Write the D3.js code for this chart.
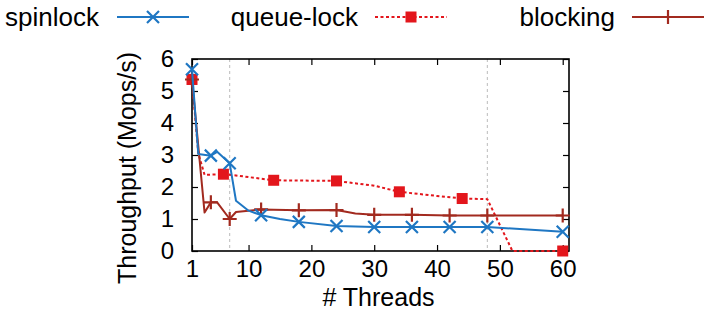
<!DOCTYPE html>
<html>
<head>
<meta charset="utf-8">
<script src="https://cdn.jsdelivr.net/npm/d3@7"></script>
<style>
  body { margin: 0; background: #fff; }
  svg { display: block; font-family: "Liberation Sans", Arial, sans-serif; }
</style>
</head>
<body>
<div id="chart"></div>
<script>
// thread counts and throughput (Mops/s) per lock type
const spinThreads = [1, 2, 4, 5, 7, 8, 10, 12, 15, 18, 24, 30, 36, 42, 48, 60];
const spinlock = [5.68, 3.03, 2.98, 3.1, 2.74, 1.57, 1.26, 1.12, 1.0, 0.91, 0.78, 0.75, 0.75, 0.75, 0.75, 0.6];
const spinMarks = [1, 4, 7, 12, 18, 24, 30, 36, 42, 48, 60];

const queueThreads = [1, 2, 3, 6, 8, 14, 24, 30, 34, 40, 44, 48, 52, 60];
const queueLock = [5.36, 3.05, 2.38, 2.4, 2.36, 2.21, 2.19, 2.04, 1.85, 1.72, 1.64, 1.62, 0, 0];
const queueMarks = [1, 6, 14, 24, 34, 44, 60];

const blockThreads = [1, 3, 4, 5, 7, 8, 12, 18, 24, 27, 30, 36, 42, 48, 60];
const blocking = [5.36, 1.2, 1.52, 1.52, 1.0, 1.22, 1.3, 1.27, 1.28, 1.17, 1.13, 1.13, 1.11, 1.11, 1.11];
const blockMarks = [1, 4, 7, 12, 18, 24, 30, 36, 42, 48, 60];

const xTicks = [1, 10, 20, 30, 40, 50, 60];
const yTicks = [0, 1, 2, 3, 4, 5, 6];
const guideLines = [7, 48];

const W = 708, H = 311;
const plotL = 192, plotR = 569, plotT = 59, plotB = 251;

const svg = d3.select("#chart").append("svg")
    .attr("width", W)
    .attr("height", H);

const x = d3.scaleLinear().domain([1, 61]).range([plotL, plotR]);
const y = d3.scaleLinear().domain([0, 6]).range([plotB, plotT]);

// grey dashed guides
svg.append("g").selectAll("line")
    .data(guideLines)
    .join("line")
    .attr("x1", d => x(d)).attr("x2", d => x(d))
    .attr("y1", plotT).attr("y2", plotB)
    .attr("stroke", "#bbb")
    .attr("stroke-width", 1)
    .attr("stroke-dasharray", "3,3");

// axes with inward ticks, mirrored
const tk = 6;
const axFont = "24px";
const bAxis = svg.append("g").attr("transform", `translate(0,${plotB})`)
    .call(d3.axisBottom(x).tickValues(xTicks).tickSizeInner(-tk).tickSizeOuter(0).tickPadding(8));
const tAxis = svg.append("g").attr("transform", `translate(0,${plotT})`)
    .call(d3.axisTop(x).tickValues(xTicks).tickSizeInner(-tk).tickSizeOuter(0).tickFormat(""));
const lAxis = svg.append("g").attr("transform", `translate(${plotL},0)`)
    .call(d3.axisLeft(y).tickValues(yTicks).tickFormat(d3.format("d")).tickSizeInner(-tk).tickSizeOuter(0).tickPadding(18));
const rAxis = svg.append("g").attr("transform", `translate(${plotR},0)`)
    .call(d3.axisRight(y).tickValues(yTicks).tickSizeInner(-tk).tickSizeOuter(0).tickFormat(""));

[bAxis, tAxis, lAxis, rAxis].forEach(a => {
    a.select(".domain").remove();
    a.selectAll(".tick line").attr("stroke", "#000").attr("stroke-width", 1.2);
    a.selectAll("text").attr("fill", "#000").style("font-size", axFont)
        .style("font-family", "Liberation Sans, Arial, sans-serif");
});
bAxis.selectAll("text").attr("dy", "0.75em");

svg.append("rect")
    .attr("x", plotL).attr("y", plotT)
    .attr("width", plotR - plotL).attr("height", plotB - plotT)
    .attr("fill", "none")
    .attr("stroke", "#000")
    .attr("stroke-width", 1.6);

// axis titles
svg.append("text")
    .attr("x", (plotL + plotR) / 2 - 2)
    .attr("y", 306)
    .attr("text-anchor", "middle")
    .style("font-size", "25px")
    .text("# Threads");

svg.append("text")
    .attr("transform", `translate(136,${(plotT + plotB) / 2 + 13}) rotate(-90)`)
    .attr("text-anchor", "middle")
    .style("font-size", "25px")
    .text("Throughput (Mops/s)");

// marker shapes
function drawMarker(g, kind, color, cx, cy) {
    if (kind === "x") {
        g.append("path")
            .attr("d", `M${cx - 6},${cy - 6}L${cx + 6},${cy + 6}M${cx - 6},${cy + 6}L${cx + 6},${cy - 6}`)
            .attr("stroke", color).attr("stroke-width", 2.2).attr("fill", "none");
    } else if (kind === "square") {
        g.append("rect")
            .attr("x", cx - 5.5).attr("y", cy - 5.5)
            .attr("width", 11).attr("height", 11)
            .attr("fill", color);
    } else {
        g.append("path")
            .attr("d", `M${cx - 7},${cy}L${cx + 7},${cy}M${cx},${cy - 7}L${cx},${cy + 7}`)
            .attr("stroke", color).attr("stroke-width", 2.2).attr("fill", "none");
    }
}

const series = [
    { name: "queue-lock", xs: queueThreads, ys: queueLock, marks: queueMarks, color: "#e3161c", dash: "3,2.5", kind: "square" },
    { name: "blocking", xs: blockThreads, ys: blocking, marks: blockMarks, color: "#a22a1f", dash: null, kind: "plus" },
    { name: "spinlock", xs: spinThreads, ys: spinlock, marks: spinMarks, color: "#1f77c3", dash: null, kind: "x" }
];

const line = d3.line().x(d => x(d[0])).y(d => y(d[1]));

series.forEach(s => {
    const pts = s.xs.map((t, i) => [t, s.ys[i]]);
    const g = svg.append("g");
    g.append("path")
        .attr("d", line(pts))
        .attr("fill", "none")
        .attr("stroke", s.color)
        .attr("stroke-width", 2)
        .attr("stroke-linejoin", "round")
        .attr("stroke-dasharray", s.dash);
    pts.filter(p => s.marks.includes(p[0]))
        .forEach(p => drawMarker(g, s.kind, s.color, x(p[0]), y(p[1])));
});

// legend
const legend = [
    { name: "spinlock", textEnd: 99, x0: 117, x1: 189, color: "#1f77c3", dash: null, kind: "x" },
    { name: "queue-lock", textEnd: 358, x0: 375, x1: 447, color: "#e3161c", dash: "3,2.5", kind: "square" },
    { name: "blocking", textEnd: 615, x0: 632, x1: 704, color: "#a22a1f", dash: null, kind: "plus" }
];
legend.forEach(l => {
    const g = svg.append("g");
    g.append("text")
        .attr("x", l.textEnd).attr("y", 26)
        .attr("text-anchor", "end")
        .style("font-size", "26px")
        .text(l.name);
    g.append("line")
        .attr("x1", l.x0).attr("x2", l.x1)
        .attr("y1", 17).attr("y2", 17)
        .attr("stroke", l.color).attr("stroke-width", 2)
        .attr("stroke-dasharray", l.dash);
    drawMarker(g, l.kind, l.color, (l.x0 + l.x1) / 2, 17);
});
</script>
</body>
</html>
